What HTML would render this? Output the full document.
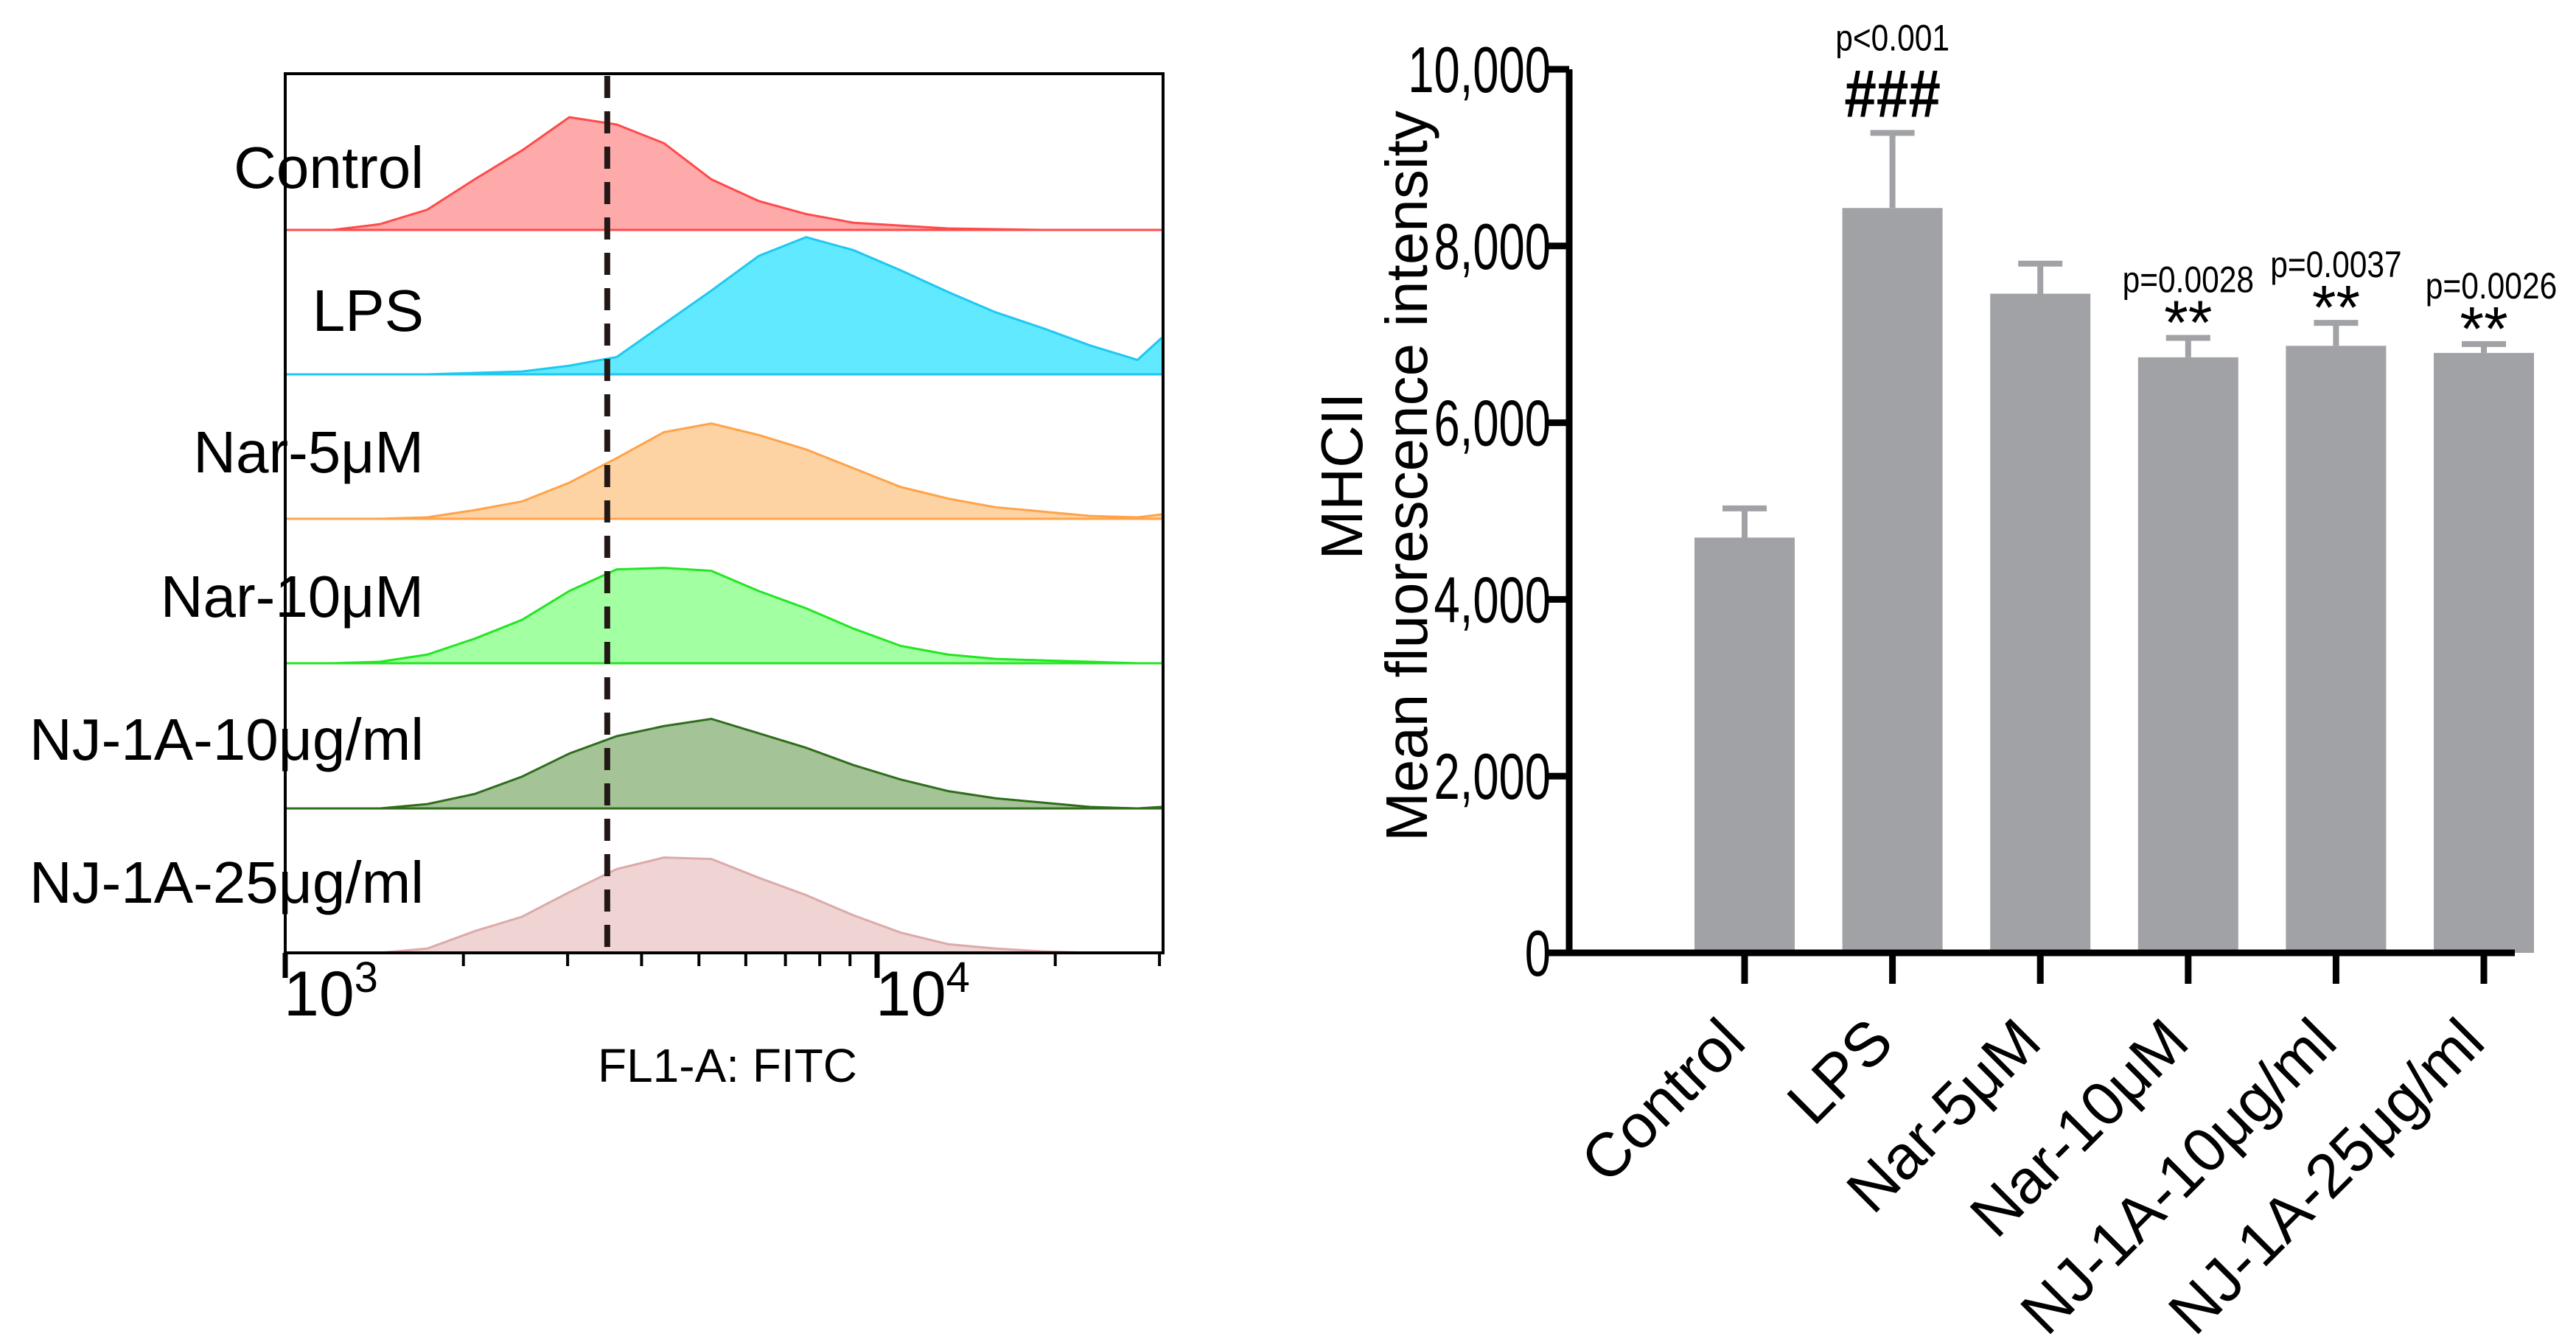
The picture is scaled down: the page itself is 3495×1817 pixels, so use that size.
<!DOCTYPE html>
<html><head><meta charset="utf-8"><style>
html,body{margin:0;padding:0;background:#fff}
svg{display:block;font-family:"Liberation Sans",sans-serif}
</style></head><body>
<svg id="fig" width="3495" height="1817" viewBox="0 0 3495 1817">
<g id="hist"></g>
<g id="bars"></g>
</svg>
<script>
// ---------- Histogram data ----------
const histBins = [3.00,3.08,3.16,3.24,3.32,3.40,3.48,3.56,3.64,3.72,3.80,3.88,3.96,4.04,4.12,4.20,4.28,4.36,4.44,4.48];
const histLabels = ["Control","LPS","Nar-5μM","Nar-10μM","NJ-1A-10μg/ml","NJ-1A-25μg/ml"];
const histControl = [0,0,4,14,35,55,78,73,60,35,20,11,5,3,1,0.5,0,0,0,0];
const histLPS     = [0,0,0,0,1,2,6,12,35,58,82,95,86,72,57,43,32,20,10,25];
const histNar5    = [0,0,0,1,6,12,25,42,60,66,58,48,35,22,14,8,5,2,1,3];
const histNar10   = [0,0,1,6,17,30,50,65,66,64,50,38,24,12,6,3,2,1,0,0];
const histNJ10    = [0,0,0,3,10,22,38,50,57,62,52,42,30,20,12,7,4,1,0,1];
const histNJ25    = [0,0,0,3,15,25,42,58,66,65,52,40,26,14,6,3,1,0,0,0];
const histSeries = [histControl,histLPS,histNar5,histNar10,histNJ10,histNJ25];
const histFills  = ["#ffaaaa","#60e9ff","#fdd3a3","#a2ffa2","#a4c497","#f0d3d3"];
const histStrokes= ["#ff4a4a","#1ec8f2","#ffa34a","#22e622","#2f6d1c","#dcaaaa"];
const gateValue = 3500;
const xTickMajor = [1000,10000];

// ---------- Bar data ----------
const barCats = ["Control","LPS","Nar-5μM","Nar-10μM","NJ-1A-10μg/ml","NJ-1A-25μg/ml"];
const barVals = [4700,8430,7460,6740,6870,6790];
const barErr  = [330,850,340,220,260,100];
const yTicks  = [0,2000,4000,6000,8000,10000];
const yTickLabels = ["0","2,000","4,000","6,000","8,000","10,000"];
const pLabels = ["","p<0.001","","p=0.0028","p=0.0037","p=0.0026"];
const sigLabels = ["","###","","**","**","**"];

const NS="http://www.w3.org/2000/svg";
function mk(tag,attrs,parent,text){const e=document.createElementNS(NS,tag);for(const k in attrs)e.setAttribute(k,attrs[k]);if(text!==undefined)e.textContent=text;parent.appendChild(e);return e;}

// ---- Histogram panel ----
const H=document.getElementById('hist');
const fL=387,fR=1578,fT=100,fB=1293;
const rowBase=[312,508,704,900,1097,1293];
const labelY=[234,428,620,816,1010,1204];
const rowH=196;
const lx=v=>fL+(Math.log10(v)-3)*803;
const lxLog=l=>fL+(l-3)*803;
histSeries.forEach((s,i)=>{
  const base=rowBase[i];
  const hy=c=>base-c/100*rowH;
  let d=`M${lxLog(histBins[0])},${base}`;
  s.forEach((c,j)=>{d+=` L${lxLog(histBins[j])},${hy(c)}`;});
  d+=` L${fR},${hy(s[s.length-1])} L${fR},${base} Z`;
  const a=mk('path',{d:d,fill:histFills[i],stroke:histStrokes[i],'stroke-width':3},H);
  
  
  const t=mk('text',{x:575,y:labelY[i],'font-size':80,'text-anchor':'end','dominant-baseline':'middle',fill:'#000'},H,histLabels[i]);
  
  
});
const gate=mk('line',{x1:lx(gateValue),x2:lx(gateValue),y1:fT+3,y2:fB,stroke:'#231815','stroke-width':8,'stroke-dasharray':'30 18'},H);


const frame=mk('rect',{x:fL,y:fT,width:fR-fL,height:fB-fT,fill:'none',stroke:'#000','stroke-width':4},H);


for(let dec=1000;dec<=10000;dec*=10){for(let m=1;m<=9;m++){const v=dec*m;const x=lx(v);if(x<fL-1||x>fR+1)continue;const major=m===1;
  const tk=mk('line',{x1:x,x2:x,y1:fB,y2:fB+(major?34:18),stroke:'#000','stroke-width':major?7:4},H);
  
  }}
xTickMajor.forEach(v=>{const g=mk('text',{x:lx(v)-2,y:1378,'font-size':86,fill:'#000'},H);
  
  
  mk('tspan',{},g,'10');mk('tspan',{dy:-32,'font-size':58},g,String(Math.round(Math.log10(v))));});
const xt=mk('text',{x:987,y:1468,'font-size':64,'text-anchor':'middle',fill:'#000'},H,'FL1-A: FITC');



// ---- Bar chart ----
const B=document.getElementById('bars');
const axX=2129,y0=1293,y10=94,xEnd=3412;
const ys=v=>y0-(v/10000)*(y0-y10);
const bx=i=>2367+i*200.6;
const bw=136;
function ctext(x,y,sx,attrs,txt){const g=mk('g',{transform:`translate(${x},${y}) scale(${sx},1)`},B);const t=mk('text',Object.assign({x:0,y:0,fill:'#000'},attrs),g,txt);return t;}
barVals.forEach((v,i)=>{
  const r=mk('rect',{x:bx(i)-bw/2,y:ys(v),width:bw,height:y0-ys(v),fill:'#a1a2a6'},B);
  
  
  const e=mk('path',{d:`M${bx(i)},${ys(v)} V${ys(v+barErr[i])} M${bx(i)-30},${ys(v+barErr[i])} H${bx(i)+30}`,stroke:'#a1a2a6','stroke-width':8,fill:'none'},B);
  
  
  const top=ys(v+barErr[i]);
  if(sigLabels[i]){
    const isHash=sigLabels[i]==='###';
    const s=ctext(bx(i),isHash?top-22:top+8,isHash?0.85:1,{'font-size':isHash?92:84,'text-anchor':'middle','font-weight':isHash?'bold':'normal'},sigLabels[i]);
    
    
    const p=ctext(bx(i)+(i===5?10:0),isHash?top-112:top-62,0.85,{'font-size':50,'text-anchor':'middle'},pLabels[i]);
    
    
  }
  const tk=mk('line',{x1:bx(i),x2:bx(i),y1:y0,y2:y0+42,stroke:'#000','stroke-width':9},B);
  
  
  const lx2=bx(i)+5, ly2=y0+125;
  const lb=mk('text',{x:lx2,y:ly2,'font-size':84,'text-anchor':'end',fill:'#000',transform:`rotate(-45 ${lx2} ${ly2})`},B,barCats[i]);
  
  
});
const ya=mk('line',{x1:axX,x2:axX,y1:y10,y2:y0+4,stroke:'#000','stroke-width':9},B);


const xa=mk('line',{x1:2098,x2:xEnd,y1:y0,y2:y0,stroke:'#000','stroke-width':9},B);


yTicks.forEach((v,i)=>{
  const t=mk('line',{x1:2098,x2:axX,y1:ys(v),y2:ys(v),stroke:'#000','stroke-width':9},B);
  
  
  const l=ctext(2104,ys(v)+31,0.72,{'font-size':88,'text-anchor':'end'},yTickLabels[i]);
  
  
});
const yt=mk('text',{'font-size':80,'text-anchor':'middle',fill:'#000',transform:'translate(1848,646) rotate(-90)'},B);


mk('tspan',{x:0,y:0},yt,'MHCII');
mk('tspan',{x:0,y:88},yt,'Mean fluorescence intensity');
</script>
</body></html>
